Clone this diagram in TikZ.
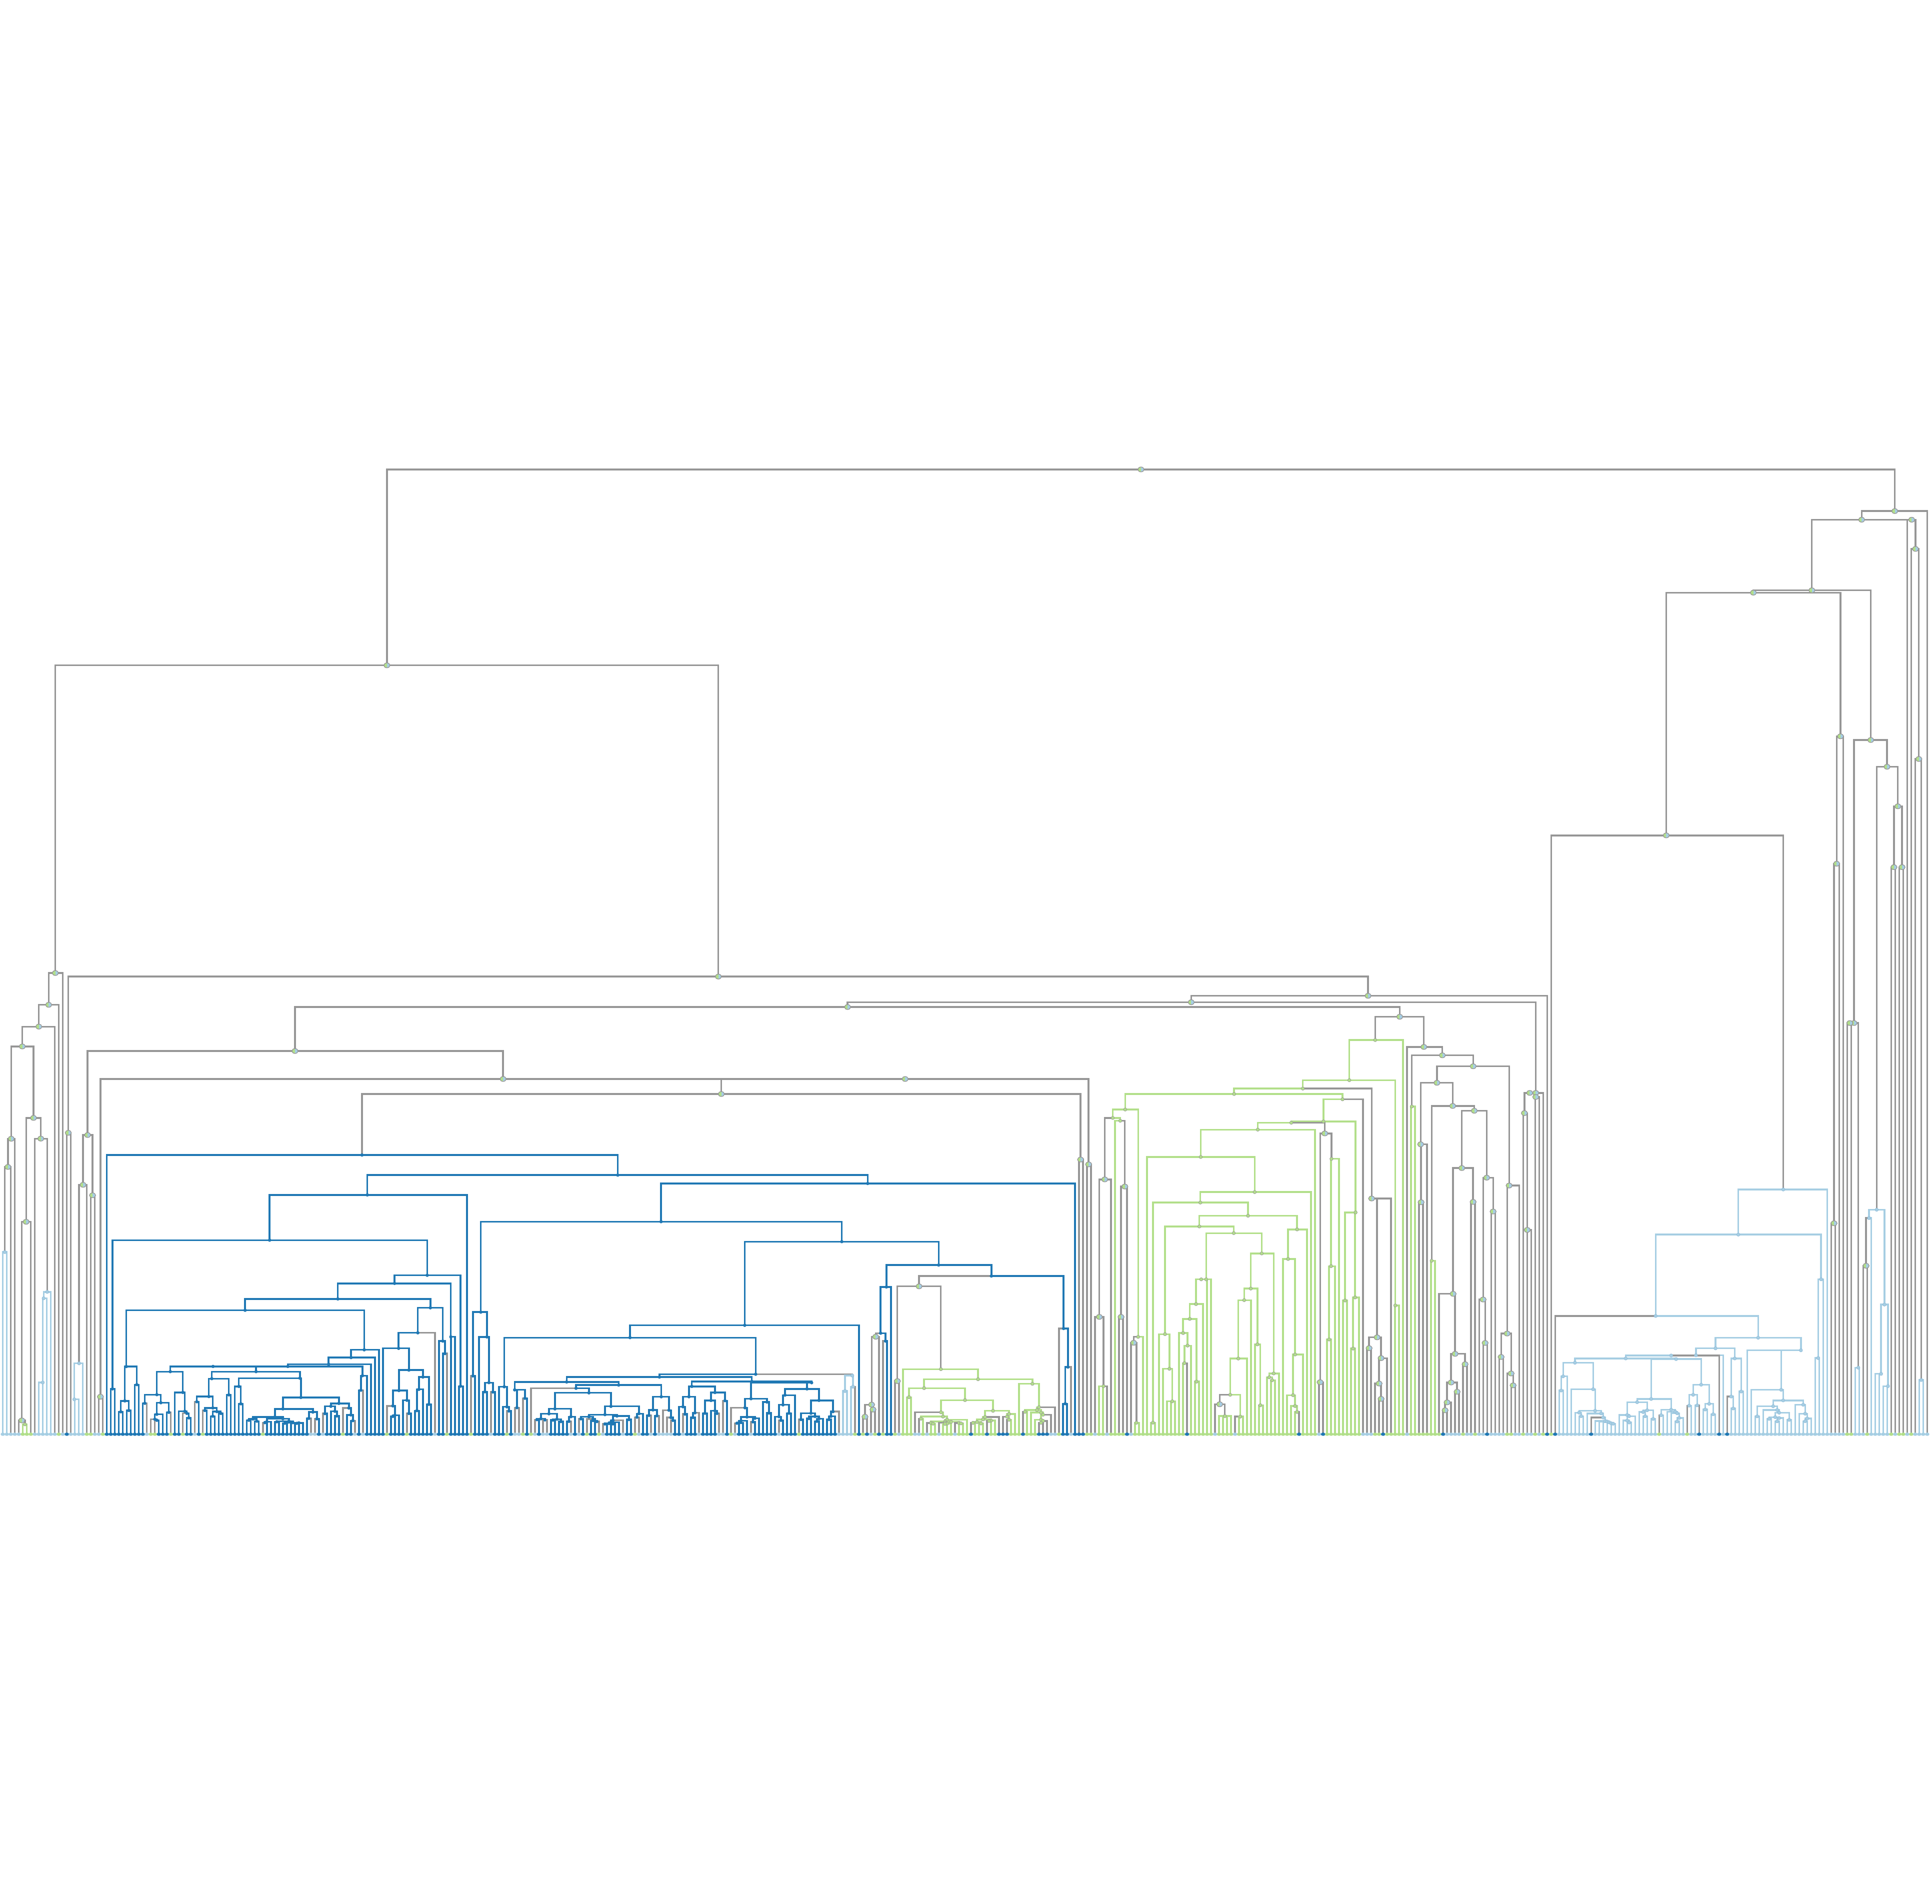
\documentclass[tikz,border=0pt]{standalone}
\usepackage{tikz}
\usetikzlibrary{shapes.geometric}
\definecolor{cbl}{RGB}{31,120,180}
\definecolor{clb}{RGB}{166,206,227}
\definecolor{cgr}{RGB}{178,223,138}
\definecolor{cmx}{RGB}{150,150,150}
\tikzset{
  edge/.style={line width=0.4pt},
  dotbl/.style={circle, inner sep=0pt, minimum size=0.027cm, fill=cbl},
  dotlb/.style={circle, inner sep=0pt, minimum size=0.027cm, fill=clb, draw=cbl!50, line width=0.08pt},
  dotgr/.style={circle, inner sep=0pt, minimum size=0.027cm, fill=cgr, draw=cmx, line width=0.08pt},
  dotmx/.style={ellipse, inner sep=0pt, minimum width=0.05cm, minimum height=0.04cm, draw=cmx, line width=0.15pt,
    path picture={\fill[cgr] (path picture bounding box.south west) rectangle (path picture bounding box.north);
      \fill[clb] (path picture bounding box.south) rectangle (path picture bounding box.north east);}},
  leafbl/.style={ellipse, inner sep=0pt, minimum width=0.036cm, minimum height=0.027cm, fill=cbl},
  leaflb/.style={ellipse, inner sep=0pt, minimum width=0.036cm, minimum height=0.027cm, fill=clb},
  leafgr/.style={ellipse, inner sep=0pt, minimum width=0.036cm, minimum height=0.027cm, fill=cgr}
}
\gdef\allnodes{}
% merge point: name, x, y, class (its dot is drawn at the end)
\newcommand{\mnode}[4]{%
  \coordinate (#1) at (#2,#3);%
  \expandafter\xdef\csname y@#1\endcsname{#3}%
  \expandafter\xdef\csname c@#1\endcsname{#4}%
  \xdef\allnodes{\ifx\allnodes\empty\else\allnodes,\fi#1/#4}}
% branch from parent down to child: child colour when both agree, grey otherwise
\newcommand{\ed}[2]{%
  \edef\pcl{\csname c@#1\endcsname}%
  \edef\ccl{\csname c@#2\endcsname}%
  \ifx\pcl\ccl \edef\ecol{c\ccl}\else \def\ecol{cmx}\fi
  \draw[edge, draw=\ecol] (#1) -| (#2);}
\newcommand{\kids}[2]{\foreach \kd in {#2} {\ed{#1}{\kd}}}
% low clusters: split leaves #2..#3 below node #1
\newcommand{\gen}[4]{%
  \begingroup
  \pgfmathtruncatemacro\gm{#2+floor(rnd*(#3-#2))}%
  \pgfmathtruncatemacro\gn{\gm+1}%
  \edef\gdo{\noexpand\gsub{#1}{#2}{\gm}{#4}\noexpand\gsub{#1}{\gn}{#3}{#4}}%
  \gdo
  \endgroup}
\newcommand{\gsub}[4]{%
  \ifnum#2=#3\relax
    \ed{#1}{l#2}%
  \else
    \begingroup
    \edef\py{\csname y@#1\endcsname}%
    \pgfmathsetmacro\gy{\py+(0.12+0.5*rnd)*(1156-\py)}%
    \pgfmathsetmacro\gx{2.3+3.247*(#2+#3)/2}%
    \mnode{g#2x#3}{\gx}{\gy}{#4}%
    \ed{#1}{g#2x#3}%
    \gen{g#2x#3}{#2}{#3}{#4}%
    \endgroup
  \fi}

\begin{document}
\begin{tikzpicture}[x=0.01cm, y=-0.01cm]
        \useasboundingbox (0,0) rectangle (1568,1545);
        \pgfmathsetseed{11}
        % Leaves: colour classes
        \foreach \a/\b/\k in {0/481/lb, 26/214/bl, 273/350/gr}
          {\foreach \i in {\a,...,\b} {\expandafter\xdef\csname c@l\i\endcsname{\k}}}
        \foreach \k/\lst in {gr/{5,6,7,14,21,22,25,37,38,42,45,50,65,85,96,101,111,117,126,130,132,146,149,158,182,199,213,215,218,220,223,225,226,227,230,232,233,235,236,237,239,240,241,243,244,245,247,248,252,253,254,256,257,258,264,271,272,352,353,354,355,356,357,358,359,365,368,376,377,380,383,385,387,414,421,461,462,466,472,474,475,477},
            bl/{16,216,219,221,222,242,246,249,250,251,255,259,260,261,265,266,268,269,270,281,296,324,330,345,360,371,386,388,397,424,429,431},
            lb/{36,48,77,78,80,88,90,108,122,128,129,133,135,136,142,144,150,155,159,162,164,165,166,167,170,174,179,180,183,187,194,209,210,211,212,217,224,228,229,231,234,238,262,263,267,273,276,282,303,308,329,340,341,342}}
          {\foreach \i in \lst {\expandafter\xdef\csname c@l\i\endcsname{\k}}}
        \foreach \i in {0,...,481} {
          \pgfmathsetmacro\lx{2.3+3.247*\i}
          \coordinate (l\i) at (\lx,1164);
        }

        % Root
        \mnode{R}{926}{381}{mx}
        \mnode{A}{314}{540}{mx}
        \mnode{B}{1537.8}{414.8}{mx}
        \kids{R}{A,B}
        \mnode{A1}{44.9}{789.7}{mx}
        \mnode{A2}{583}{792.6}{mx}
        \kids{A}{A1,A2}

        % Left block
        \mnode{A11}{39.5}{815.5}{mx}
        \mnode{A111}{31.5}{833.2}{mx}
        \mnode{A1111}{18.1}{849.3}{mx}
        \mnode{A11111}{9.1}{924.2}{mx}
        \mnode{A111111}{6.4}{947.1}{mx}
        \mnode{a0}{3.9}{1016.2}{lb}
        \mnode{A11112}{27.2}{907.3}{mx}
        \mnode{a1}{21.2}{991.6}{mx}
        \mnode{a11}{17.7}{1152.8}{mx}
        \mnode{a111}{20.2}{1156}{gr}
        \mnode{a2}{33.1}{924.1}{mx}
        \mnode{a21}{38.3}{1048.5}{lb}
        \mnode{a211}{35.4}{1053.7}{lb}
        \mnode{a2111}{34.7}{1122}{lb}
        \kids{A1}{A11,l15}
        \kids{A11}{A111,l14}
        \kids{A111}{A1111,l13}
        \kids{A1111}{A11111,A11112}
        \kids{A11111}{A111111,l3}
        \kids{A111111}{a0,l2}
        \kids{a0}{l0,l1}
        \kids{A11112}{a1,a2}
        \kids{a1}{a11,l7}
        \kids{a11}{l4,a111}
        \kids{a111}{l5,l6}
        \kids{a2}{l8,a21}
        \kids{a21}{a211,l12}
        \kids{a211}{a2111,l11}
        \kids{a2111}{l9,l10}

        % Second level
        \mnode{A21}{55.4}{919.4}{mx}
        \mnode{A22}{1110.3}{808.2}{mx}
        \mnode{A221}{966.8}{813.4}{mx}
        \mnode{A2211}{687.9}{817.3}{mx}
        \mnode{A22111}{239.4}{853}{mx}
        \mnode{A221111}{71.1}{921.2}{mx}
        \mnode{b1}{67.4}{961.6}{mx}
        \mnode{b11}{64.2}{1106.5}{lb}
        \mnode{b111}{60.3}{1135.7}{lb}
        \mnode{b2}{75.1}{970.1}{mx}
        \mnode{A221112}{408.3}{875.7}{mx}
        \mnode{c0}{81.5}{1133.6}{mx}
        \kids{A2}{A21,A22}
        \kids{A21}{l16,l17}
        \kids{A22}{A221,l386}
        \kids{A22111}{A221111,A221112}
        \kids{A221111}{b1,b2}
        \kids{b1}{b11,l21}
        \kids{b11}{b111,l20}
        \kids{b111}{l18,l19}
        \kids{b2}{l22,l23}
        \kids{c0}{l24,l25}

        % Blue cluster
        \mnode{C}{734.6}{875.7}{mx}
        \mnode{C1}{585.4}{887.9}{mx}
        \mnode{C2}{883.5}{945}{mx}
        \mnode{C12}{877}{941.1}{mx}
        \mnode{C11}{293.8}{937.4}{bl}
        \mnode{C111}{501.4}{953.7}{bl}
        \mnode{C1111}{298.1}{969.8}{bl}
        \mnode{C11111}{218.8}{1006.5}{bl}
        \mnode{C111111}{91.3}{1127.2}{bl}
        \mnode{C111112}{346.7}{1035}{bl}
        \mnode{C1111122}{373.8}{1125}{bl}
        \mnode{C1111121}{320.2}{1041.6}{bl}
        \mnode{C11111212}{365.9}{1085}{bl}
        \mnode{C11111211}{274.2}{1054.2}{bl}
        \mnode{C111112111}{198.9}{1063.4}{bl}
        \mnode{T1}{102.5}{1109.1}{bl}
        \mnode{Z1}{295.6}{1095.5}{bl}
        \mnode{Z2}{284.9}{1101.8}{bl}
        \mnode{Z3}{266.7}{1107.2}{bl}
        \mnode{Z4}{233.6}{1109}{bl}
        \mnode{Z6}{294.2}{1116.5}{bl}
        \mnode{Z5}{172.9}{1109}{bl}
        \mnode{Z7}{138.2}{1113.2}{bl}
        \mnode{Z8}{207.8}{1113.2}{bl}
        \mnode{Z81}{171.9}{1118.9}{bl}
        \mnode{Z82}{243.4}{1118.5}{bl}
        \mnode{C111112112}{349.3}{1061.4}{bl}
        \mnode{S1}{339.1}{1081.7}{bl}
        \mnode{S11}{323.5}{1094.3}{bl}
        \mnode{S2}{359.4}{1088.4}{bl}
        \kids{C}{C1,C2}
        \kids{C1}{C11,C12}
        \kids{C2}{l271,l272}
        \kids{C12}{l269,l270}
        \kids{C11}{l26,C111}
        \kids{C1111}{C11111,l116}
        \kids{C11111}{C111111,C111112}
        \kids{C111111}{l27,l28}
        \kids{C111112}{C1111121,C1111122}
        \kids{C1111122}{l114,l115}
        \kids{C1111121}{C11111211,C11111212}
        \kids{C11111212}{l112,l113}
        \kids{C11111211}{C111112111,C111112112}
        \kids{C111112111}{T1,Z1}
        \kids{Z1}{Z2,l94}
        \kids{Z2}{Z3,l93}
        \kids{Z3}{Z4,l92}
        \kids{Z4}{Z5,Z6}
        \kids{Z5}{Z7,Z8}
        \kids{Z8}{Z81,Z82}
        \kids{C111112112}{S1,S2}
        \kids{S1}{S11,l108}
        \gen{T1}{29}{34}{bl}
        \gen{Z7}{35}{47}{bl}
        \gen{Z81}{48}{57}{bl}
        \gen{Z82}{58}{88}{bl}
        \gen{Z6}{89}{91}{bl}
        \gen{S11}{95}{107}{bl}
        \gen{S2}{109}{111}{bl}

        \mnode{C1112}{704.2}{960.5}{bl}
        \mnode{C11121}{536.5}{991.5}{bl}
        \mnode{C111211}{390.2}{1064.9}{bl}
        \mnode{C111212}{683.2}{1007.7}{bl}
        \mnode{X1}{604.4}{1075.6}{bl}
        \mnode{X11}{511.3}{1085.6}{bl}
        \mnode{X111}{409.2}{1125.5}{bl}
        \mnode{X112}{613.3}{1115.3}{bl}
        \mnode{Y1}{535.2}{1117.6}{bl}
        \mnode{Y11}{459.9}{1121.6}{bl}
        \mnode{Y111}{417.7}{1128}{bl}
        \mnode{Y112}{502.1}{1124.1}{bl}
        \mnode{Y1121}{467.5}{1126.7}{bl}
        \mnode{Y1122}{536.7}{1133.6}{bl}
        \mnode{Y12}{610.2}{1121.2}{bl}
        \mnode{Y121}{561.5}{1125.2}{bl}
        \mnode{Y122}{658.7}{1122.2}{bl}
        \mnode{Y2}{691.7}{1116.4}{lb}
        \kids{C1112}{C11121,l268}
        \kids{C11121}{C111211,C111212}
        \kids{X1}{X11,l214}
        \kids{X11}{X111,X112}
        \kids{X112}{Y1,Y2}
        \kids{Y1}{Y11,Y12}
        \kids{Y11}{Y111,Y112}
        \kids{Y112}{Y1121,Y1122}
        \kids{Y12}{Y121,Y122}
        \gen{C111211}{117}{123}{bl}
        \gen{X111}{124}{127}{bl}
        \gen{Y111}{128}{131}{bl}
        \gen{Y1121}{132}{160}{bl}
        \gen{Y1122}{161}{168}{bl}
        \gen{Y121}{169}{181}{bl}
        \gen{Y122}{182}{209}{bl}
        \gen{Y2}{210}{213}{lb}

        \mnode{X2}{761.8}{1026.7}{bl}
        \mnode{X21}{719.4}{1044.5}{bl}
        \mnode{X211}{714.7}{1082}{bl}
        \mnode{X2111}{710.7}{1084.9}{mx}
        \mnode{X21111}{707.4}{1140}{mx}
        \mnode{X2112}{718.7}{1088.4}{bl}
        \mnode{X22}{804.6}{1035.6}{bl}
        \mnode{X221}{745.9}{1044}{mx}
        \mnode{x2}{728.3}{1120.9}{mx}
        \mnode{X2212}{763.6}{1111.2}{gr}
        \mnode{W}{793.8}{1119.4}{gr}
        \mnode{W1}{750}{1126.6}{gr}
        \mnode{W2}{837.9}{1123.1}{gr}
        \mnode{X222}{863.2}{1078.2}{bl}
        \mnode{X2221}{866.7}{1109.5}{bl}
        \mnode{X22211}{864.5}{1139.2}{bl}
        \kids{X2}{X21,X22}
        \kids{X21}{X211,l222}
        \kids{X211}{X2111,X2112}
        \kids{X2111}{X21111,l219}
        \kids{X2112}{l220,l221}
        \kids{X22}{X221,X222}
        \kids{X221}{x2,X2212}
        \kids{x2}{l223,l224}
        \kids{X2212}{l225,W}
        \kids{W}{W1,W2}
        \kids{X222}{l264,X2221}
        \kids{X2221}{X22211,l267}
        \kids{X22211}{l265,l266}
        \gen{X21111}{215}{218}{mx}
        \gen{W1}{226}{253}{gr}
        \gen{W2}{254}{263}{gr}

        % Green cluster
        \mnode{A22112}{1136}{825.2}{mx}
        \mnode{A221121}{1116.1}{844.1}{gr}
        \mnode{Q1}{1095.1}{876.7}{gr}
        \mnode{Q12}{1132.4}{1059.5}{gr}
        \mnode{Q11}{1057.4}{883.5}{gr}
        \mnode{Q112}{1113.2}{972.7}{mx}
        \mnode{Q111}{1001.6}{887.9}{gr}
        \mnode{Q1111}{913.2}{900.5}{gr}
        \mnode{Q11111}{903.1}{907.3}{gr}
        \mnode{Q111111}{896.6}{957.2}{mx}
        \mnode{q1}{892.2}{1068.8}{mx}
        \mnode{q1a}{895.6}{1125}{gr}
        \mnode{Q111112}{909.2}{909.6}{gr}
        \mnode{q2}{912.9}{963}{mx}
        \mnode{Q11112}{923.7}{1085}{gr}
        \mnode{q3}{920.1}{1089.8}{mx}
        \mnode{q3a}{922.3}{1154.7}{gr}
        \mnode{Q1112}{1089.6}{892.2}{gr}
        \mnode{Q11121}{1074.1}{910.2}{gr}
        \mnode{Q111212}{1100.2}{984}{gr}
        \mnode{Q111211}{1048}{911.2}{gr}
        \mnode{Q1112111}{1020.8}{916.8}{gr}
        \mnode{R1}{974.5}{939}{gr}
        \mnode{R2}{1018.3}{967.5}{gr}
        \mnode{R21}{974.2}{976}{gr}
        \mnode{r3}{935.7}{1154.6}{gr}
        \mnode{R211}{1012.9}{986.7}{gr}
        \mnode{R2111}{973.4}{995.4}{gr}
        \mnode{r4}{945.5}{1082.8}{gr}
        \mnode{r5}{949.1}{1110.9}{gr}
        \mnode{r6}{951.4}{1137.3}{gr}
        \mnode{R21111}{1001.3}{1000.8}{gr}
        \mnode{R211111}{978.9}{1038.3}{gr}
        \mnode{s7}{974.9}{1038.3}{gr}
        \mnode{s6}{970.7}{1058.4}{gr}
        \mnode{s5}{965.6}{1070.4}{gr}
        \mnode{s3}{960.2}{1081.9}{gr}
        \mnode{s2}{963.8}{1092.1}{gr}
        \mnode{s1}{961.3}{1106.3}{gr}
        \mnode{s4}{971.1}{1121.3}{gr}
        \mnode{R211112}{1024}{1017.3}{gr}
        \mnode{R2111121}{1015.1}{1045.8}{gr}
        \mnode{s9}{1009.8}{1055.2}{gr}
        \mnode{s11}{1005}{1102.6}{gr}
        \mnode{s12}{998.4}{1132}{gr}
        \mnode{s13}{989.9}{1139.7}{mx}
        \mnode{s15}{994.1}{1149.3}{gr}
        \mnode{s14}{1006.6}{1149.7}{gr}
        \mnode{s10}{1020.5}{1091.1}{gr}
        \mnode{s16}{1022.9}{1140.5}{gr}
        \mnode{s8}{1033.7}{1114.7}{gr}
        \mnode{s17}{1030.1}{1117.8}{gr}
        \mnode{s18}{1032.5}{1120.2}{gr}
        \mnode{R2112}{1052.7}{997.8}{gr}
        \mnode{R21121}{1045.4}{1021.8}{gr}
        \mnode{Q1112112}{1075.2}{919.9}{mx}
        \mnode{q4}{1071.4}{1121.8}{mx}
        \mnode{Q11121122}{1080.6}{940.5}{gr}
        \kids{A221121}{Q1,l350}
        \kids{Q1}{Q11,Q12}
        \kids{Q12}{l348,l349}
        \kids{Q11}{Q111,Q112}
        \kids{Q111}{Q1111,Q1112}
        \kids{Q1111}{Q11111,Q11112}
        \kids{Q11111}{Q111111,Q111112}
        \kids{Q111111}{q1,l277}
        \kids{q1}{l273,q1a}
        \kids{q1a}{l274,l275,l276}
        \kids{Q111112}{l278,q2}
        \kids{Q11112}{q3,l285}
        \kids{q3}{l282,q3a}
        \kids{q3a}{l283,l284}
        \kids{Q1112}{Q11121,l340}
        \kids{Q11121}{Q111211,Q111212}
        \kids{Q111211}{Q1112111,Q1112112}
        \kids{Q1112111}{R1,l328}
        \kids{R1}{l286,R2}
        \kids{R2}{R21,l327}
        \kids{R21}{r3,R211}
        \kids{r3}{l287,l288}
        \kids{R211}{R2111,R2112}
        \kids{R2111}{r4,R21111}
        \kids{r4}{l289,r5}
        \kids{r5}{l290,r6}
        \kids{r6}{l291,l292,l293}
        \kids{R21111}{R211111,R211112}
        \kids{R211111}{s7,l302}
        \kids{s7}{s6,l301}
        \kids{s6}{s5,l300}
        \kids{s5}{s3,s4}
        \kids{s3}{l294,s2}
        \kids{s2}{s1,l297}
        \kids{s1}{l295,l296}
        \kids{s4}{l298,l299}
        \kids{R211112}{R2111121,s8}
        \kids{R2111121}{s9,s10}
        \kids{s9}{s11,l312}
        \kids{s11}{s12,l311}
        \kids{s12}{s13,s14}
        \kids{s13}{l303,s15}
        \kids{s15}{l304,l305,l306,l307}
        \kids{s14}{l308,l309,l310}
        \kids{s10}{l313,s16}
        \kids{s16}{l314,l315}
        \kids{s8}{s17,l319}
        \kids{s17}{l316,s18}
        \kids{s18}{l317,l318}
        \kids{R2112}{R21121,l326}
        \kids{Q1112112}{q4,Q11121122}
        \kids{q4}{l329,l330}
        \gen{q2}{279}{281}{mx}
        \gen{R21121}{320}{325}{gr}
        \gen{Q11121122}{331}{334}{gr}
        \gen{Q111212}{335}{339}{gr}
        \gen{Q112}{341}{347}{mx}

        % Grey block
        \mnode{A221122}{1155.6}{849.7}{mx}
        \mnode{P1}{1170.6}{856.5}{mx}
        \mnode{P11}{1145.8}{898}{gr}
        \mnode{P12}{1195.6}{865.4}{mx}
        \mnode{P121}{1166.2}{878.8}{mx}
        \mnode{P1211}{1153}{928.7}{mx}
        \mnode{P1212}{1179}{897.6}{mx}
        \mnode{p1}{1161.9}{1023.2}{gr}
        \mnode{P12121}{1196.5}{901.5}{mx}
        \mnode{P121211}{1186.4}{948}{mx}
        \mnode{P121212}{1206.6}{955.8}{mx}
        \mnode{P122}{1224.8}{962.2}{mx}
        \mnode{A2212}{1246.4}{887}{mx}
        \mnode{Nb}{1241.5}{887}{mx}
        \mnode{Nc}{1237.2}{903.4}{mx}
        \mnode{Ne}{1239.5}{998.2}{mx}
        \mnode{Nd}{1246.4}{890.3}{mx}
        \kids{A221122}{l351,P1}
        \kids{P1}{P11,P12}
        \kids{P11}{l352,l353}
        \kids{P12}{P121,P122}
        \kids{P121}{P1211,P1212}
        \kids{P1212}{p1,P12121}
        \kids{p1}{l357,l358}
        \kids{P12121}{P121211,P121212}
        \kids{A2212}{Nb,l385}
        \kids{Nb}{Nc,Nd}
        \kids{Nc}{l380,Ne}
        \kids{Ne}{l381,l382}
        \kids{Nd}{l383,l384}
        \gen{P1211}{354}{356}{mx}
        \gen{P121211}{359}{368}{mx}
        \gen{P121212}{369}{373}{mx}
        \gen{P122}{374}{379}{mx}

        % Links across blocks
        \kids{A221}{A2211,A2212}
        \kids{A2211}{A22111,A22112}
        \kids{A221112}{c0,C}
        \kids{C111}{C1111,C1112}
        \kids{C111212}{X1,X2}
        \kids{A22112}{A221121,A221122}

        % Right block
        \mnode{B1}{1510.9}{421.8}{mx}
        \mnode{E}{1551.5}{421.8}{mx}
        \mnode{F}{1554.6}{445.5}{mx}
        \mnode{G}{1557.3}{616}{mx}
        \mnode{G2}{1559.2}{1120}{lb}
        \mnode{D}{1470.5}{479.1}{mx}
        \mnode{D1}{1423}{481}{mx}
        \mnode{D11}{1352.3}{678}{mx}
        \mnode{D112}{1447.3}{965.4}{lb}
        \mnode{D1121}{1410.8}{1002}{lb}
        \mnode{D11211}{1343.7}{1068}{lb}
        \mnode{N1}{1426.9}{1085.7}{lb}
        \mnode{N11}{1392.3}{1094.3}{lb}
        \mnode{N111}{1376.4}{1099.9}{lb}
        \mnode{N1111}{1356.3}{1100.1}{lb}
        \mnode{N11111}{1319.4}{1102.5}{lb}
        \mnode{N111111}{1278.2}{1106}{lb}
        \mnode{N111112}{1360.3}{1103}{lb}
        \mnode{N112}{1407.9}{1102.5}{lb}
        \mnode{N12}{1461.6}{1095.9}{lb}
        \mnode{D11212}{1478}{1038.3}{lb}
        \mnode{d1}{1475.6}{1102.2}{lb}
        \mnode{D12}{1493.7}{597.6}{mx}
        \mnode{D121}{1490.6}{701}{mx}
        \mnode{D1211}{1488.5}{992.8}{mx}
        \mnode{D2}{1518.3}{600.6}{mx}
        \mnode{D21}{1504.7}{830.3}{mx}
        \mnode{D211}{1501.3}{830.3}{mx}
        \mnode{D212}{1508.2}{1110}{lb}
        \mnode{D22}{1531.5}{622.3}{mx}
        \mnode{D221}{1523.1}{981.8}{lb}
        \mnode{D2211}{1516.9}{988.6}{lb}
        \mnode{D22111}{1514.5}{1027.3}{mx}
        \mnode{D2212}{1529.4}{1058.8}{lb}
        \mnode{D22121}{1526.7}{1115}{lb}
        \mnode{D22122}{1532.3}{1125}{lb}
        \mnode{D222}{1540.3}{654.4}{mx}
        \mnode{D2221}{1537.1}{703.8}{mx}
        \mnode{D2222}{1543.7}{703.8}{mx}
        \kids{B}{B1,l481}
        \kids{B1}{D,E}
        \kids{E}{l476,F}
        \kids{F}{l477,G}
        \kids{G}{l478,G2}
        \kids{G2}{l479,l480}
        \kids{D}{D1,D2}
        \kids{D1}{D11,D12}
        \kids{D11}{l387,D112}
        \kids{D112}{D1121,l456}
        \kids{D1121}{D11211,D11212}
        \kids{D11211}{l388,N1}
        \kids{N1}{N11,N12}
        \kids{N11}{N111,N112}
        \kids{N111}{N1111,l430}
        \kids{N1111}{N11111,l429}
        \kids{N11111}{N111111,N111112}
        \kids{D11212}{d1,l455}
        \kids{d1}{l453,l454}
        \kids{D12}{D121,l460}
        \kids{D121}{D1211,l459}
        \kids{D1211}{l457,l458}
        \kids{D2}{D21,D22}
        \kids{D21}{D211,D212}
        \kids{D211}{l461,l462}
        \kids{D212}{l463,l464}
        \kids{D22}{D221,D222}
        \kids{D221}{D2211,D2212}
        \kids{D2211}{D22111,l467}
        \kids{D22111}{l465,l466}
        \kids{D2212}{D22121,D22122}
        \kids{D22121}{l468,l469}
        \kids{D22122}{l470,l471}
        \kids{D222}{D2221,D2222}
        \kids{D2221}{l472,l473}
        \kids{D2222}{l474,l475}
        \gen{N111111}{389}{403}{lb}
        \gen{N111112}{404}{428}{lb}
        \gen{N112}{431}{435}{lb}
        \gen{N12}{436}{452}{lb}

        % Dots on top of the branches
        \foreach \n/\c in \allnodes {\node[dot\c] (m-\n) at (\n) {};}
        \foreach \i in {0,...,481} {
          \edef\lk{\csname c@l\i\endcsname}
          \node[leaf\lk] (leaf\i) at (l\i) {};
        }
      \end{tikzpicture}
\end{document}
